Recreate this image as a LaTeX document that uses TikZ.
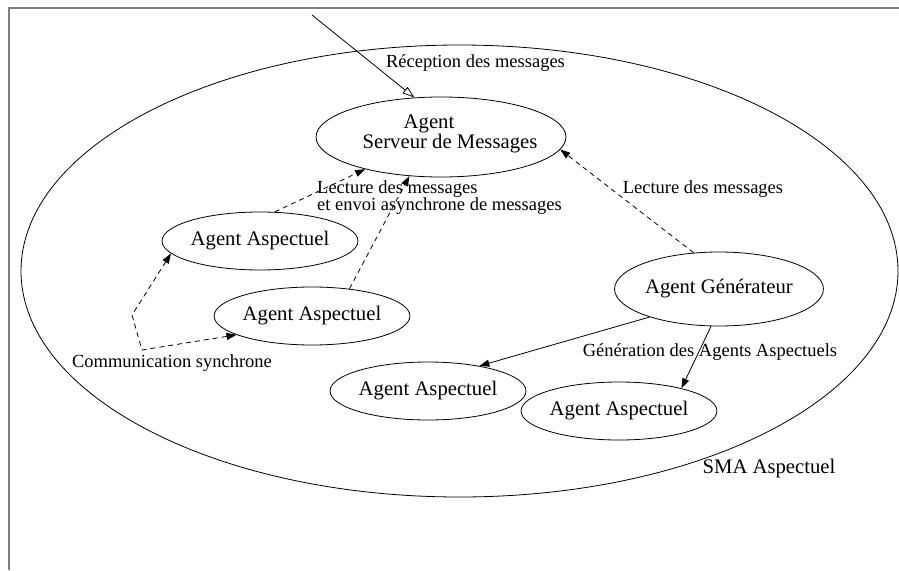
\documentclass[tikz,border=0pt]{standalone}
\usepackage{fontspec}
\setmainfont{Liberation Serif}
\usetikzlibrary{shapes.geometric,arrows.meta}

\tikzset{
  agentbox/.style={draw, ellipse, inner sep=0pt, line width=0.8pt,
    font=\fontsize{20.7}{17}\selectfont},
  aspect/.style={agentbox, minimum width=174pt, minimum height=58pt},
  lbl/.style={inner sep=0pt, font=\fontsize{18.5}{16.5}\selectfont},
  bigtxt/.style={inner sep=0pt, font=\fontsize{20.7}{17}\selectfont},
  conn/.style={line width=0.8pt},
  dashconn/.style={conn, dash pattern=on 5pt off 4pt},
  tipfill/.style={-{Triangle[length=10pt,width=7pt]}},
  tipboth/.style={{Triangle[length=10pt,width=7pt]}-{Triangle[length=10pt,width=7pt]}},
  tipopen/.style={-{Triangle[open,length=12pt,width=8pt]}}
}

\begin{document}
\begin{tikzpicture}[x=1pt,y=-1pt]
\useasboundingbox (0,0) rectangle (899,570);

% page frame
\draw[gray, line width=1.6pt] (9,570) -- (9,8) -- (899,8);

% the aspect-oriented multi-agent system
\draw[line width=0.8pt] (459.5,271) ellipse [x radius=438.5pt, y radius=226pt];
\node[bigtxt, anchor=base] (sma) at (769,473) {SMA Aspectuel};

% agents
\node[agentbox, minimum width=250pt, minimum height=80pt] (srv) at (441,137) {};
\node[bigtxt, align=center] (srvtxt) at (450,133.6) {\hspace*{-42pt}Agent\\Serveur de Messages};
\node[aspect] (aa1) at (260,241) {Agent Aspectuel};
\node[aspect] (aa2) at (312,316) {Agent Aspectuel};
\node[aspect] (aa3) at (428,391) {Agent Aspectuel};
\node[aspect] (aa4) at (619,411) {Agent Aspectuel};
\node[agentbox, minimum width=204pt, minimum height=74pt] (gen) at (719,289) {Agent Générateur};

% incoming messages
\coordinate (src) at (312,15);
\draw[conn, tipopen] (src) -- (srv.124);
\node[lbl, anchor=base] (lrecv) at (475.5,67) {Réception des messages};

% reading of messages
\draw[dashconn, tipfill] (aa1.63) -- (srv.203);
\draw[dashconn, tipfill] (aa2.36) -- (srv.231);
\draw[dashconn, tipfill] (gen.125) -- (srv.354);
\node[lbl, align=left, anchor=west] (lread1) at (317,197.5) {Lecture des messages\\et envoi asynchrone de messages};
\node[lbl, anchor=base] (lread2) at (703,193) {Lecture des messages};

% synchronous communication
\coordinate (c1) at (132,315);
\coordinate (c2) at (142,350);
\draw[dashconn, tipboth] (aa1.188) -- (c1) -- (c2) -- (aa2.194);
\node[lbl, anchor=base] (lsync) at (172,367) {Communication synchrone};

% generation of aspect agents
\draw[conn, tipfill] (gen.202) -- (aa3.26);
\draw[conn, tipfill] (gen.258) -- (aa4.20);
\node[lbl, anchor=base] (lgen) at (710,356) {Génération des Agents Aspectuels};
\end{tikzpicture}
\end{document}
